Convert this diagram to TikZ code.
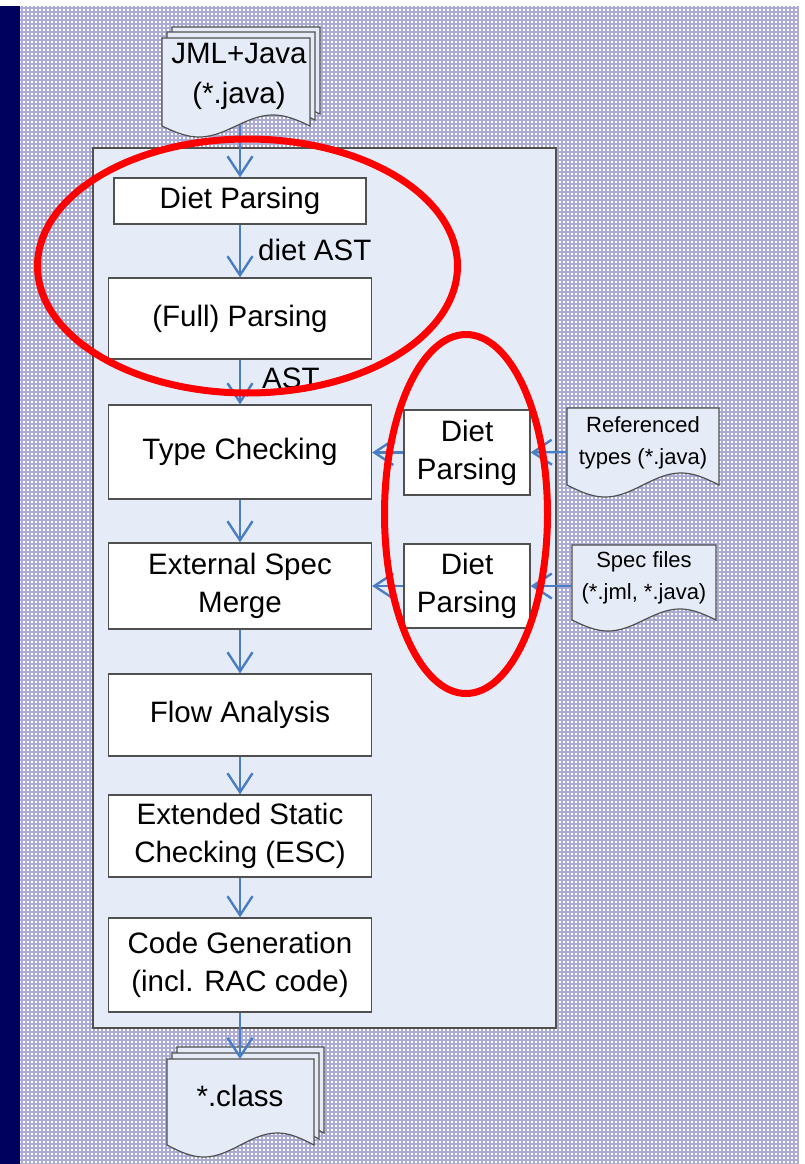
\documentclass[tikz,border=0pt]{standalone}
\usepackage{fontspec}
\setmainfont{Liberation Sans}
\usetikzlibrary{arrows.meta}

\definecolor{navy}{HTML}{00005E}
\definecolor{gridline}{HTML}{ABABD6}
\definecolor{panelfill}{HTML}{E6ECF7}
\definecolor{edgegrey}{HTML}{505050}
\definecolor{flowblue}{HTML}{4A7EC4}
\definecolor{markred}{HTML}{FF0000}

\tikzset{
  bigtext/.style={font=\fontsize{29.5}{38}\selectfont},
  smalltext/.style={font=\fontsize{22}{32}\selectfont},
  stepbox/.style={draw=edgegrey, fill=white, line width=1.2pt, align=center,
    inner sep=0pt, minimum width=263pt, bigtext},
  sidebox/.style={stepbox, minimum width=126pt},
  sheet/.style={draw=edgegrey, fill=panelfill, line width=1.2pt},
  doctext/.style={align=center, inner sep=0pt},
  flow/.style={draw=flowblue, line width=2.4pt,
    -{Straight Barb[length=19pt,width=25pt,line width=2.4pt]}},
  flowlabel/.style={bigtext, anchor=west, inner sep=0pt},
  ring/.style={draw=markred, line width=7pt},
}

% one sheet of a document symbol with a wavy lower edge
% #1 left, #2 top, #3 right, #4 wave base line, #5 wave amplitude
\newcommand\docsheet[5]{%
  \filldraw[sheet] (#1,#2) -- (#3,#2) -- (#3,#4)
    -- plot[domain=1:0, samples=48, variable=\t]
       ({#1+\t*(#3-#1)}, {#4+#5*sin(360*\t)}) -- cycle;}

\begin{document}
\begin{tikzpicture}[x=1pt, y=-1pt]
  \useasboundingbox (0,0) rectangle (804,1164);

  % page background: navy margin bar and a fine lavender grid
  \fill[white] (0,0) rectangle (804,1164);
  \fill[navy] (0,6) rectangle (20,1164);
  \foreach \gx in {22,26,...,798}
    \draw[gridline, line width=1.6pt] (\gx,6) -- (\gx,1164);
  \foreach \gy in {8,12,...,1164}
    \draw[gridline, line width=1.6pt] (20,\gy) -- (798,\gy);

  % compiler panel
  \filldraw[draw=edgegrey, fill=panelfill, line width=1.2pt]
    (93,148) rectangle (556,1028);

  % input source files
  \docsheet{172}{27}{320}{114}{11}
  \docsheet{167}{32}{315}{120}{11}
  \docsheet{162}{38}{310}{126}{11}
  \node[doctext, font=\fontsize{29.5}{40}\selectfont] (src) at (239,76)
    {JML+Java\\(*.java)};
  \coordinate (srcout) at (240,125);

  % pipeline stages
  \node[stepbox, minimum width=252pt, minimum height=46pt] (diet) at (240,201) {Diet Parsing};
  \node[stepbox, minimum height=81pt] (full) at (240,318.5) {(Full) Parsing};
  \node[stepbox, minimum height=94pt] (tc)   at (240,452) {Type Checking};
  \node[stepbox, minimum height=86pt] (esm)  at (240,586) {External Spec\\Merge};
  \node[stepbox, minimum height=82pt] (fa)   at (240,715) {Flow Analysis};
  \node[stepbox, minimum height=82pt] (esc)  at (240,836) {Extended Static\\Checking (ESC)};
  \node[stepbox, minimum height=94pt] (cg)   at (240,965) {Code Generation\\(incl. RAC code)};

  % side parsers
  \node[sidebox, minimum height=85pt] (dp1) at (467,452.5) {Diet\\Parsing};
  \node[sidebox, minimum height=84pt] (dp2) at (467,586) {Diet\\Parsing};

  % referenced and specification files
  \docsheet{567}{408}{719}{485}{12}
  \node[doctext, smalltext] (ref) at (643,443) {Referenced\\types (*.java)};
  \docsheet{572}{545}{716}{620}{11}
  \node[doctext, smalltext] (spec) at (644,578) {Spec files\\(*.jml, *.java)};
  \coordinate (refin) at (567,452);
  \coordinate (specin) at (572,586);

  % output class files
  \docsheet{177}{1047}{324}{1133}{12}
  \docsheet{172}{1053}{319}{1139}{12}
  \docsheet{167}{1059}{314}{1145}{12}
  \node[doctext, bigtext] (cls) at (240,1096) {*.class};
  \coordinate (clsin) at (240,1059);

  % data flow
  \draw[flow] (srcout) -- (diet.north);
  \draw[flow] (diet.south) -- (full.north);
  \draw[flow] (full.south) -- (tc.north);
  \draw[flow] (tc.south) -- (esm.north);
  \draw[flow] (esm.south) -- (fa.north);
  \draw[flow] (fa.south) -- (esc.north);
  \draw[flow] (esc.south) -- (cg.north);
  \draw[flow] (cg.south) -- (clsin);
  \draw[flow] (refin) -- (dp1.east);
  \draw[flow] (dp1.west) -- (tc.east |- dp1.west);
  \draw[flow] (specin) -- (dp2.east);
  \draw[flow] (dp2.west) -- (esm.east |- dp2.west);

  \node[flowlabel] (dietast) at (258,250) {diet AST};
  \node[flowlabel] (ast) at (262,378) {AST};

  % highlighted parsing phases
  \draw[ring] (247.5,266) ellipse [x radius=210, y radius=127];
  \draw[ring] (466,514) ellipse [x radius=81.5, y radius=179.5];
\end{tikzpicture}
\end{document}
